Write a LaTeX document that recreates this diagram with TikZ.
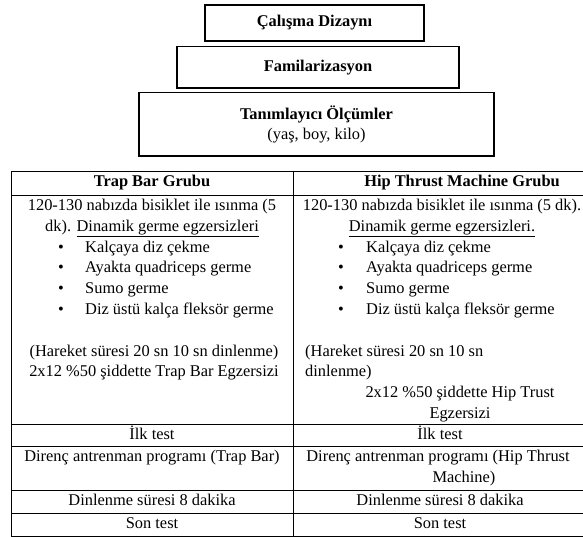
\documentclass[tikz,border=0pt]{standalone}
\usepackage{fontspec}
\setmainfont{Liberation Serif}
\usetikzlibrary{calc}
\tikzset{
	stagebox/.style={draw=black, line width=1.2pt, inner sep=0pt, font=\fontsize{16.4}{20.8}\selectfont\bfseries},
	celltxt/.style={inner sep=0pt, text height=12pt, text depth=4pt, font=\fontsize{16.4}{20.8}\selectfont},
	headtxt/.style={celltxt, font=\fontsize{16.4}{20.8}\selectfont\bfseries},
	gridline/.style={line width=0.8pt}
}

\begin{document}
\begin{tikzpicture}[x=1pt, y=-1pt]
		%%%%% START %%%%%
		\useasboundingbox (0, 0) rectangle (583, 537);
		
		\node[stagebox, minimum width=219, minimum height=36] (dizayn) at (314.5, 23) {Çalışma Dizaynı};
		\node[stagebox, minimum width=282, minimum height=41.5] (famil) at (318, 67.3) {Familarizasyon};
		\node[stagebox, minimum width=355, minimum height=63.3, align=center] (olcum) at (316.5, 124.4)
			{Tanımlayıcı Ölçümler\\\mdseries (yaş, boy, kilo)};
		
		\draw[gridline] (11, 171) rectangle (587, 536);
		\draw[gridline] (293, 171) -- (293, 536);
		\draw[gridline] (11, 195) -- (587, 195);
		\draw[gridline] (11, 424) -- (587, 424);
		\draw[gridline] (11, 446) -- (587, 446);
		\draw[gridline] (11, 490) -- (587, 490);
		\draw[gridline] (11, 513) -- (587, 513);
		
		% trap bar
		\node[headtxt] (trapHead) at (152, 183) {Trap Bar Grubu};
		\node[celltxt] (trapWarmA) at (152, 206.4) {120-130 nabızda bisiklet ile ısınma (5};
		\node[celltxt] (trapWarmB) at (152, 227.2) {dk). \underline{Dinamik germe egzersizleri}};
		\node[celltxt] (trapDotA) at (61, 248) {\textbullet};
		\node[celltxt, anchor=west] (trapMoveA) at (85, 248) {Kalçaya diz çekme};
		\node[celltxt] (trapDotB) at (61, 268.8) {\textbullet};
		\node[celltxt, anchor=west] (trapMoveB) at (85, 268.8) {Ayakta quadriceps germe};
		\node[celltxt] (trapDotC) at (61, 289.6) {\textbullet};
		\node[celltxt, anchor=west] (trapMoveC) at (85, 289.6) {Sumo germe};
		\node[celltxt] (trapDotD) at (61, 310.4) {\textbullet};
		\node[celltxt, anchor=west] (trapMoveD) at (85, 310.4) {Diz üstü kalça fleksör germe};
		\node[celltxt] (trapRest) at (154, 352) {(Hareket süresi 20 sn 10 sn dinlenme)};
		\node[celltxt] (trapLoad) at (154, 372.8) {2x12 \%50 şiddette Trap Bar Egzersizi};
		\node[celltxt] (trapPre) at (152, 435) {İlk test};
		\node[celltxt] (trapProg) at (152, 457) {Direnç antrenman programı (Trap Bar)};
		\node[celltxt] (trapPause) at (152, 501.5) {Dinlenme süresi 8 dakika};
		\node[celltxt] (trapPost) at (152, 524.5) {Son test};
		
		% hip thrust
		\node[headtxt] (hipHead) at (462, 183) {Hip Thrust Machine Grubu};
		\node[celltxt] (hipWarmA) at (442, 206.4) {120-130 nabızda bisiklet ile ısınma (5 dk).};
		\node[celltxt] (hipWarmB) at (442, 227.2) {\underline{Dinamik germe egzersizleri.}};
		\node[celltxt] (hipDotA) at (341, 248) {\textbullet};
		\node[celltxt, anchor=west] (hipMoveA) at (366, 248) {Kalçaya diz çekme};
		\node[celltxt] (hipDotB) at (341, 268.8) {\textbullet};
		\node[celltxt, anchor=west] (hipMoveB) at (366, 268.8) {Ayakta quadriceps germe};
		\node[celltxt] (hipDotC) at (341, 289.6) {\textbullet};
		\node[celltxt, anchor=west] (hipMoveC) at (366, 289.6) {Sumo germe};
		\node[celltxt] (hipDotD) at (341, 310.4) {\textbullet};
		\node[celltxt, anchor=west] (hipMoveD) at (366, 310.4) {Diz üstü kalça fleksör germe};
		\node[celltxt, anchor=west] (hipRestA) at (305, 352) {(Hareket süresi 20 sn 10 sn};
		\node[celltxt, anchor=west] (hipRestB) at (305, 372.8) {dinlenme)};
		\node[celltxt] (hipLoadA) at (460, 393.6) {2x12 \%50 şiddette Hip Trust};
		\node[celltxt] (hipLoadB) at (460, 414.4) {Egzersizi};
		\node[celltxt] (hipPre) at (440, 435) {İlk test};
		\node[celltxt] (hipProgA) at (438, 457) {Direnç antrenman programı (Hip Thrust};
		\node[celltxt] (hipProgB) at (464, 478) {Machine)};
		\node[celltxt] (hipPause) at (440, 501.5) {Dinlenme süresi 8 dakika};
		\node[celltxt] (hipPost) at (440, 524.5) {Son test};
		%%%%% END %%%%%
\end{tikzpicture}
\end{document}
